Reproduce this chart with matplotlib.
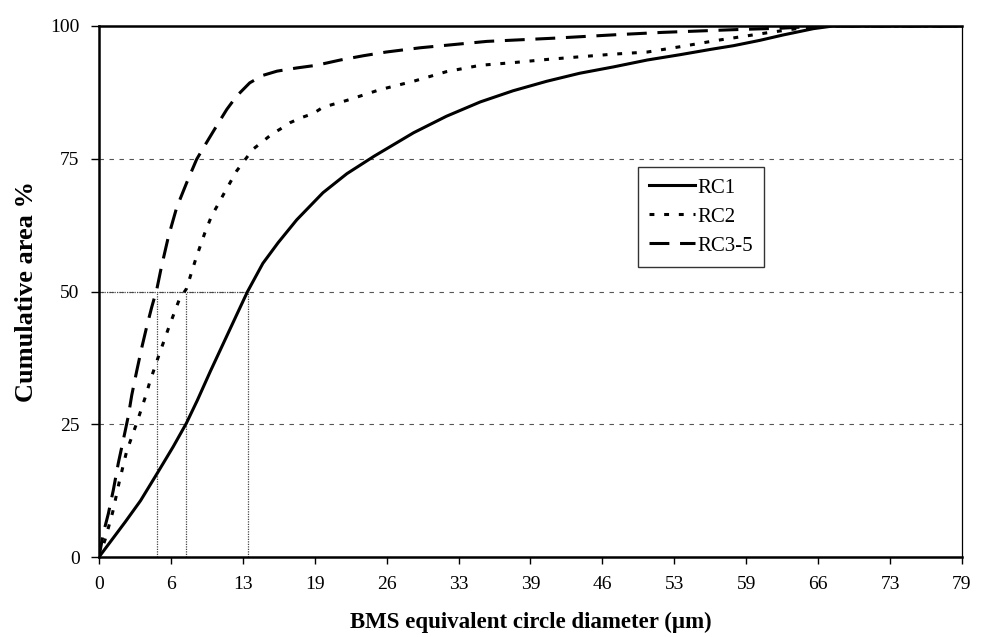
import matplotlib
matplotlib.use("Agg")
import matplotlib.pyplot as plt
import numpy as np

plt.rcParams["font.family"] = ["Liberation Serif", "DejaVu Serif"]

# Cumulative area curves (diameter in µm, cumulative area in %)
rc1_x = [0, 1.2, 2.4, 3.8, 5.4, 6.8, 8.0, 9.0, 10.2, 11.4, 12.6, 13.6, 15.0,
         16.4, 18.1, 20.5, 22.7, 25.2, 28.8, 31.8, 34.9, 37.9, 41.0, 44.0,
         47.1, 50.2, 53.2, 56.0, 58.1, 60.5, 62.6, 65.4, 67.2, 72.0, 79.0]
rc1_y = [0, 3.3, 6.6, 10.6, 16.0, 20.8, 25.2, 29.5, 35.0, 40.3, 45.6, 50.0, 55.3,
         59.2, 63.5, 68.6, 72.2, 75.5, 79.9, 83.0, 85.7, 87.8, 89.6, 91.1,
         92.3, 93.6, 94.6, 95.6, 96.3, 97.3, 98.3, 99.5, 100, 100, 100]

rc2_x = [0, 0.55, 1.26, 1.86, 2.53, 3.45, 4.3, 4.67, 5.5, 6.4, 7.35, 8.0, 8.9,
         9.7, 10.3, 10.9, 11.4, 12.0, 12.6, 13.4, 14.1, 14.9, 15.8, 16.6, 17.5,
         18.6, 19.6, 20.5, 22.7, 25.7, 28.8, 31.8, 34.9, 37.9, 41.0, 44.0,
         47.1, 50.2, 53.2, 56.6, 61.1, 64.2, 66.5, 72.0, 79.0]
rc2_y = [0, 3.2, 8.5, 14.2, 19.9, 25.2, 30.5, 33.1, 38.1, 43.3, 48.5, 50.5, 56.4,
         61.1, 64.2, 66.4, 68.3, 70.5, 72.7, 74.9, 76.8, 78.1, 79.6, 80.6, 81.8,
         82.8, 83.5, 84.7, 86.0, 88.0, 89.6, 91.4, 92.6, 93.1, 93.7, 94.2,
         94.7, 95.1, 96.1, 97.3, 98.7, 99.6, 100, 100, 100]

rc35_x = [0, 0.4, 0.86, 1.31, 1.77, 2.23, 2.68, 3.0, 3.45, 3.9, 4.36, 4.82, 5.3,
          5.7, 6.35, 7.11, 8.03, 8.94, 9.86, 10.77, 11.7, 12.6, 13.8, 15.0,
          16.3, 18.1, 19.9, 22.1, 24.2, 26.3, 29.4, 35.5, 41.6, 47.7, 51.6,
          58.0, 62.6, 66.0, 72.0, 79.0]
rc35_y = [0, 4.5, 8.2, 12.6, 17.7, 22.1, 26.5, 30.5, 35.0, 39.3, 43.3, 47.0, 50.5,
          54.5, 60.3, 65.8, 70.5, 74.9, 78.1, 81.2, 84.3, 86.8, 89.3, 90.7,
          91.5, 92.1, 92.6, 93.6, 94.4, 95.1, 95.9, 97.1, 97.7, 98.4, 98.8,
          99.3, 99.6, 100, 100, 100]

# Diameters at which each curve reaches 50 %
d50 = [13.6, 8.0, 5.3]

x_tick_labels = ["0", "6", "13", "19", "26", "33", "39", "46", "53", "59", "66", "73", "79"]
y_ticks = [0, 25, 50, 75, 100]

fig = plt.figure(figsize=(9.87, 6.37), dpi=100)
ax = fig.add_axes([99 / 987, 80 / 637, 863 / 987, 531 / 637])

ax.set_xlim(0, 79)
ax.set_ylim(0, 100)

# horizontal reference lines
for yv in [25, 50, 75]:
    ax.axhline(yv, color="#555555", lw=0.8, ls=(0, (4, 5)), zorder=1)
ax.plot([0, d50[0]], [50, 50], color="#444444", lw=0.9, ls=(0, (1, 1)), zorder=1)
for d in d50:
    ax.plot([d, d], [0, 50], color="#444444", lw=0.9, ls=(0, (1, 1)), zorder=1)

lw = 2.2
ax.plot(rc1_x, rc1_y, color="black", lw=lw, ls="-", label="RC1", zorder=3)
ax.plot(rc2_x, rc2_y, color="black", lw=lw, ls=(0, (1.6, 3.2)), label="RC2", zorder=3)
ax.plot(rc35_x, rc35_y, color="black", lw=lw, ls=(0, (6.5, 3.5)), label="RC3-5", zorder=3)

ax.set_xticks(np.linspace(0, 79, len(x_tick_labels)))
ax.set_xticklabels(x_tick_labels)
ax.set_yticks(y_ticks)
ax.tick_params(axis="both", labelsize=14, direction="out", color="black")
ax.tick_params(axis="x", length=5, width=1, pad=9)
ax.tick_params(axis="y", length=5.5, width=1, pad=8.5)

for side in ["left", "bottom", "top"]:
    ax.spines[side].set_linewidth(1.8)
ax.spines["right"].set_linewidth(0.9)

ax.set_xlabel("BMS equivalent circle diameter (\u00b5m)", fontsize=16.5, fontweight="bold", labelpad=13)
ax.set_ylabel("Cumulative area %", fontsize=19, fontweight="bold", labelpad=9)

leg = ax.legend(loc="upper left", bbox_to_anchor=(0.6246, 0.735), fontsize=15,
                frameon=True, fancybox=False, shadow=False, handlelength=2.2,
                handletextpad=0.1, labelspacing=0.45, borderpad=0.55,
                borderaxespad=0)
leg.get_frame().set_edgecolor("black")
leg.get_frame().set_linewidth(1.0)

fig.savefig("out.png", dpi=100, facecolor="white")
